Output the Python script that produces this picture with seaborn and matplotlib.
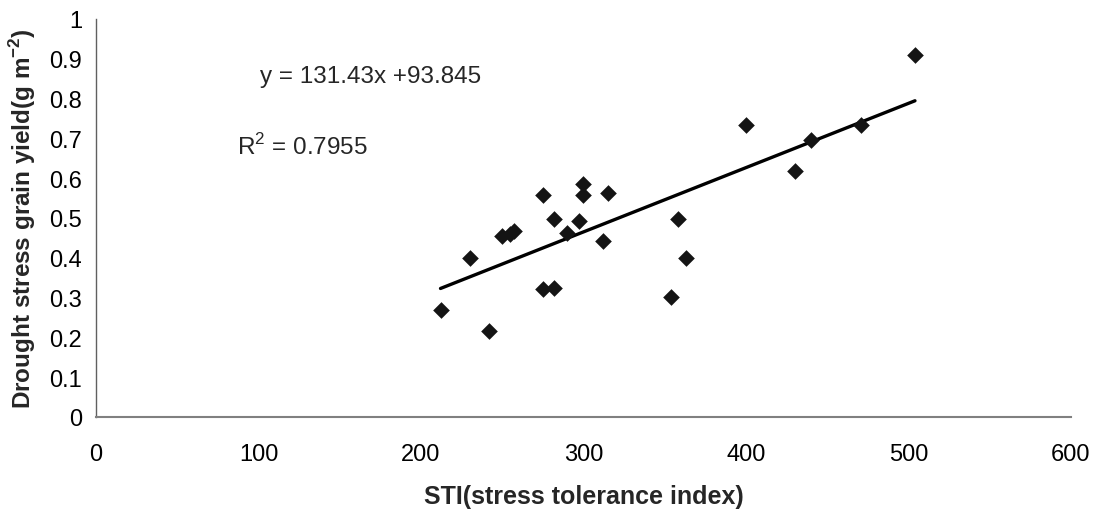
"""
Drought stress grain yield against stress tolerance index (STI), with linear fit.
"""

import matplotlib
matplotlib.use('Agg')
import matplotlib.pyplot as plt
import seaborn as sns
import pandas as pd
import numpy as np

# values
sti = [212, 230, 242, 250, 255, 257, 275, 275, 282, 282, 290, 297,
       300, 300, 312, 315, 354, 358, 363, 400, 430, 440, 471, 504]
grain_yield = [0.269, 0.400, 0.217, 0.455, 0.460, 0.468, 0.557, 0.321, 0.324,
               0.497, 0.462, 0.492, 0.586, 0.557, 0.441, 0.562, 0.302, 0.497,
               0.399, 0.734, 0.618, 0.697, 0.734, 0.910]

equation_text = 'y = 131.43x +93.845'
r2_text = 'R$^2$ = 0.7955'
x_ticks = [0, 100, 200, 300, 400, 500, 600]
y_ticks = [0, 0.1, 0.2, 0.3, 0.4, 0.5, 0.6, 0.7, 0.8, 0.9, 1]

df = pd.DataFrame({'STI': sti, 'Yield': grain_yield})

sns.set_style('white')
plt.rcParams['font.family'] = ['Liberation Sans', 'DejaVu Sans']
plt.rcParams['mathtext.fontset'] = 'custom'
plt.rcParams['mathtext.rm'] = 'Liberation Sans'
plt.rcParams['mathtext.bf'] = 'Liberation Sans:bold'

fig = plt.figure(figsize=(11, 5.1), dpi=100)
ax = fig.add_axes([0.0873, 0.1804, 0.8863, 0.7804])

sns.regplot(data=df, x='STI', y='Yield', ax=ax, ci=None, truncate=True,
            marker='D',
            scatter_kws={'s': 72, 'color': '#141414', 'alpha': 1,
                         'linewidths': 0, 'zorder': 3},
            line_kws={'color': 'black', 'linewidth': 2.4})

ax.set_xlim(0, 600)
ax.set_ylim(0, 1)
ax.set_xticks(x_ticks)
ax.set_xticklabels([str(t) for t in x_ticks])
ax.set_yticks(y_ticks)
ax.set_yticklabels(['0', '0.1', '0.2', '0.3', '0.4', '0.5', '0.6', '0.7', '0.8', '0.9', '1'])

for side in ['top', 'right']:
    ax.spines[side].set_visible(False)
ax.spines['bottom'].set_color('#808080')
ax.spines['left'].set_color('#606060')
ax.spines['bottom'].set_linewidth(1.5)
ax.spines['left'].set_linewidth(1.0)
ax.tick_params(axis='both', direction='out', length=5, width=1, colors='#606060',
               labelcolor='black', labelsize=17, pad=5)
ax.tick_params(axis='x', pad=13.5)

ax.set_xlabel('STI(stress tolerance index)', fontsize=18, fontweight='bold', labelpad=14)
ax.set_ylabel('Drought stress grain yield(g m$^{\\mathbf{-2}}$)', fontsize=17.5,
              fontweight='bold', labelpad=8)

ax.text(101, 0.857, equation_text, fontsize=17.5, va='center', ha='left')
ax.text(87, 0.681, r2_text, fontsize=17.5, va='center', ha='left')

fig.savefig('out.png', dpi=100)
